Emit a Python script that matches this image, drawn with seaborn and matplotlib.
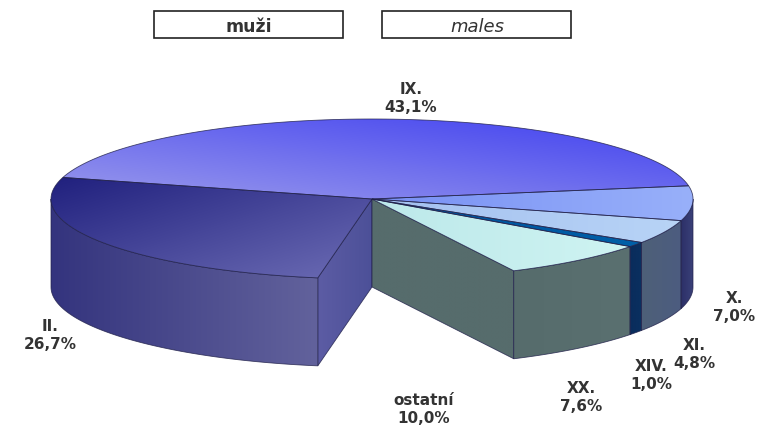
import numpy as np
import matplotlib
matplotlib.use("Agg")
import matplotlib.pyplot as plt
from matplotlib.patches import Polygon, Rectangle
import seaborn as sns

# Data
categories = ["IX.", "II.", "ostatní", "XX.", "XIV.", "XI.", "X."]
shares = [43.1, 26.7, 10.0, 7.6, 1.0, 4.8, 7.0]
share_labels = ["43,1%", "26,7%", "10,0%", "7,6%", "1,0%", "4,8%", "7,0%"]
header_labels = ["muži", "males"]

# Pie geometry in pixels
CX, CY = 372, 200
RX, RY = 321, 80
DEPTH = 88
START = 9.5

# Colours: top face (from, to), rim (from, to). None means the slice is left empty
top_colors = [("#9a9aec", "#4040f0"), ("#20207e", "#6c6cb4"), None, ("#bce8ea", "#cff4f2"),
              ("#00509a", "#0060a8"), ("#a4c0f0", "#b8d4f6"), ("#7890f4", "#98b0fa")]
rim_colors = [None, ("#34347e", "#62629c"), None, ("#566c6c", "#5a7070"),
              ("#0a2c5c", "#0a3060"), ("#4e6078", "#4c5c80"), ("#2c3068", "#3a4078")]
wall_gray = "#566c6c"
wall_purple = ("#5c5ca4", "#4c5098")
edge = "#20204a"

sns.set_theme(style="white")
plt.rcParams['font.family'] = ['DejaVu Sans']

fig = plt.figure(figsize=(7.64, 4.27), dpi=100)
ax = fig.add_axes([0, 0, 1, 1])
ax.set_xlim(0, 764)
ax.set_ylim(427, 0)
ax.axis("off")


def rim_point(angle, drop=0):
    a = np.radians(angle)
    return CX + RX * np.cos(a), CY - RY * np.sin(a) + drop


def fill_gradient(verts, colors, direction, z):
    # gradient image clipped to the polygon
    cmap = sns.blend_palette(colors, as_cmap=True)
    xs, ys = verts[:, 0], verts[:, 1]
    x0, x1, y0, y1 = xs.min(), xs.max(), ys.min(), ys.max()
    gx, gy = np.meshgrid(np.linspace(0, 1, 128), np.linspace(0, 1, 128))
    grad = gx * direction[0] + gy * direction[1]
    img = ax.imshow(grad, extent=[x0, x1, y1, y0], cmap=cmap, aspect="auto", zorder=z,
                    interpolation="bilinear")
    poly = Polygon(verts, closed=True, fc="none", ec="none", transform=ax.transData)
    ax.add_patch(poly)
    img.set_clip_path(poly)
    ax.add_patch(Polygon(verts, closed=True, fc="none", ec=edge, lw=0.6, zorder=z + 0.1, alpha=0.8))


bounds = START + np.cumsum([0] + [s * 3.6 * 100 / sum(shares) for s in shares])
wedges = list(zip(bounds[:-1], bounds[1:]))
centre = np.array([[CX, CY]])

# Inner walls either side of the empty slice
a_left, a_right = wedges[2]
left_wall = np.array([(CX, CY), rim_point(a_left), rim_point(a_left, DEPTH), (CX, CY + DEPTH)])
right_wall = np.array([(CX, CY), rim_point(a_right), rim_point(a_right, DEPTH), (CX, CY + DEPTH)])
fill_gradient(left_wall, wall_purple, (1, 0), 2)
fill_gradient(right_wall, [wall_gray, wall_gray], (1, 0), 2.5)

# Outer rims and top faces
for i, (a0, a1) in enumerate(wedges):
    if rim_colors[i] is not None:
        # only the front half of the pie shows its rim
        lo, hi = max(a0, 180), min(a1, 360)
        if a0 >= 360 or a1 <= 180:
            lo, hi = 360, 360 + (a1 - 360)
        if hi > lo:
            t = np.linspace(lo, hi, 80)
            upper = np.array([rim_point(v) for v in t])
            lower = np.array([rim_point(v, DEPTH) for v in t[::-1]])
            fill_gradient(np.vstack([upper, lower]), rim_colors[i], (1, 0), 3)
    if top_colors[i] is not None:
        t = np.linspace(a0, a1, 120)
        arc = np.array([rim_point(v) for v in t])
        direction = (1, -1) if i == 0 else (1, 1)
        if i >= 3:
            direction = (1, 0)
        fill_gradient(np.vstack([centre, arc]), top_colors[i], direction, 4)

# Header boxes
for label, x0, style in zip(header_labels, [154, 382], ["normal", "italic"]):
    ax.add_patch(Rectangle((x0, 12), 189, 27, fc="white", ec="#222222", lw=1.2, zorder=5))
    ax.text(x0 + 95, 26.5, label, ha="center", va="center", zorder=6, color="#333333",
            fontsize=12.5 if style == "normal" else 13,
            fontweight="bold" if style == "normal" else "normal", fontstyle=style)

# Slice labels
label_pos = [(411, 98), (50, 336), (424, 410), (581, 398), (651, 376), (694, 355), (734, 308)]
for name, share, (x, y) in zip(categories, share_labels, label_pos):
    ax.text(x, y, f"{name}\n{share}", ha="center", va="center", fontsize=11, fontweight="bold",
            color="#333333", linespacing=1.25, zorder=6)

fig.savefig("out.png", dpi=100)
plt.close(fig)
